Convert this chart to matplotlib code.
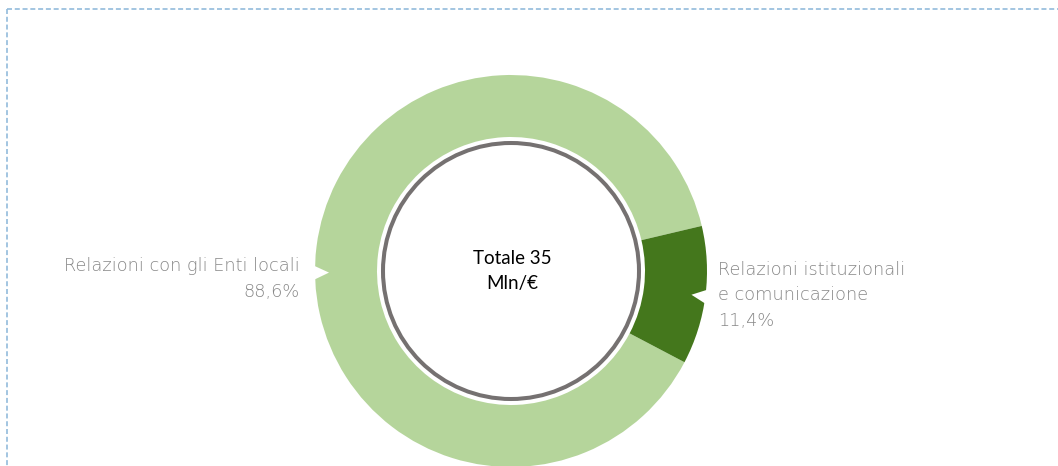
import numpy as np
import matplotlib.pyplot as plt
from matplotlib.patches import Circle, Polygon

# data
categories = ['Relazioni con gli Enti locali', 'Relazioni istituzionali\ne comunicazione']
shares = [88.6, 11.4]
share_labels = ['88,6%', '11,4%']
colors = ['#b5d59b', '#44771c']
total_lines = ['Totale 35', 'Mln/€']

W, H = 1058, 466
cx, cy = 511, H - 271
r_out, r_in = 196, 134

plt.rcParams['lines.scale_dashes'] = False

fig = plt.figure(figsize=(W / 100, H / 100), dpi=100)
ax = fig.add_axes([0, 0, 1, 1])

ax.pie(shares, colors=colors, startangle=13.3, counterclock=True,
       center=(cx, cy), radius=r_out,
       wedgeprops=dict(width=r_out - r_in, linewidth=0))

# inner grey ring
ax.add_patch(Circle((cx, cy), 128, facecolor='white', edgecolor='#757171', lw=2.9, zorder=3))


# little white notches pointing at the labels
def notch(angle_deg, depth=14, half=7.5):
    a = np.deg2rad(angle_deg)
    ux, uy = np.cos(a), np.sin(a)
    px, py = -uy, ux
    bx, by = cx + (r_out + 2) * ux, cy + (r_out + 2) * uy
    tx, ty = cx + (r_out - depth) * ux, cy + (r_out - depth) * uy
    pts = [(bx + half * px, by + half * py), (bx - half * px, by - half * py), (tx, ty)]
    ax.add_patch(Polygon(pts, closed=True, facecolor='white', edgecolor='none', zorder=4))


notch(180.5)
notch(-7.5)

font = dict(family=['DejaVu Sans'], fontweight='light', color='#878787', fontsize=12.8)


def label_block(x, y0, lines, ha, step):
    for i, line in enumerate(lines):
        ax.text(x, H - (y0 + i * step), line, ha=ha, va='baseline', **font)


label_block(300, 271, [categories[0], share_labels[0]], 'right', 26)
label_block(718, 275, categories[1].split('\n') + [share_labels[1]], 'left', 25.5)

for i, line in enumerate(total_lines):
    ax.text(cx + 1, H - (264 + i * 25.5), line, ha='center', va='baseline', fontsize=13.5,
            family=['Lato', 'DejaVu Sans'], color='black', zorder=5)

# dashed frame (top and left)
ax.plot([7, W], [H - 9, H - 9], color='#92bbdc', lw=1.2, dashes=(3.6, 2.0))
ax.plot([7, 7], [H - 9, 0], color='#92bbdc', lw=1.2, dashes=(3.6, 2.0))

ax.set_xlim(0, W)
ax.set_ylim(0, H)
ax.set_aspect('equal')
ax.axis('off')

fig.savefig('out.png', dpi=100)
